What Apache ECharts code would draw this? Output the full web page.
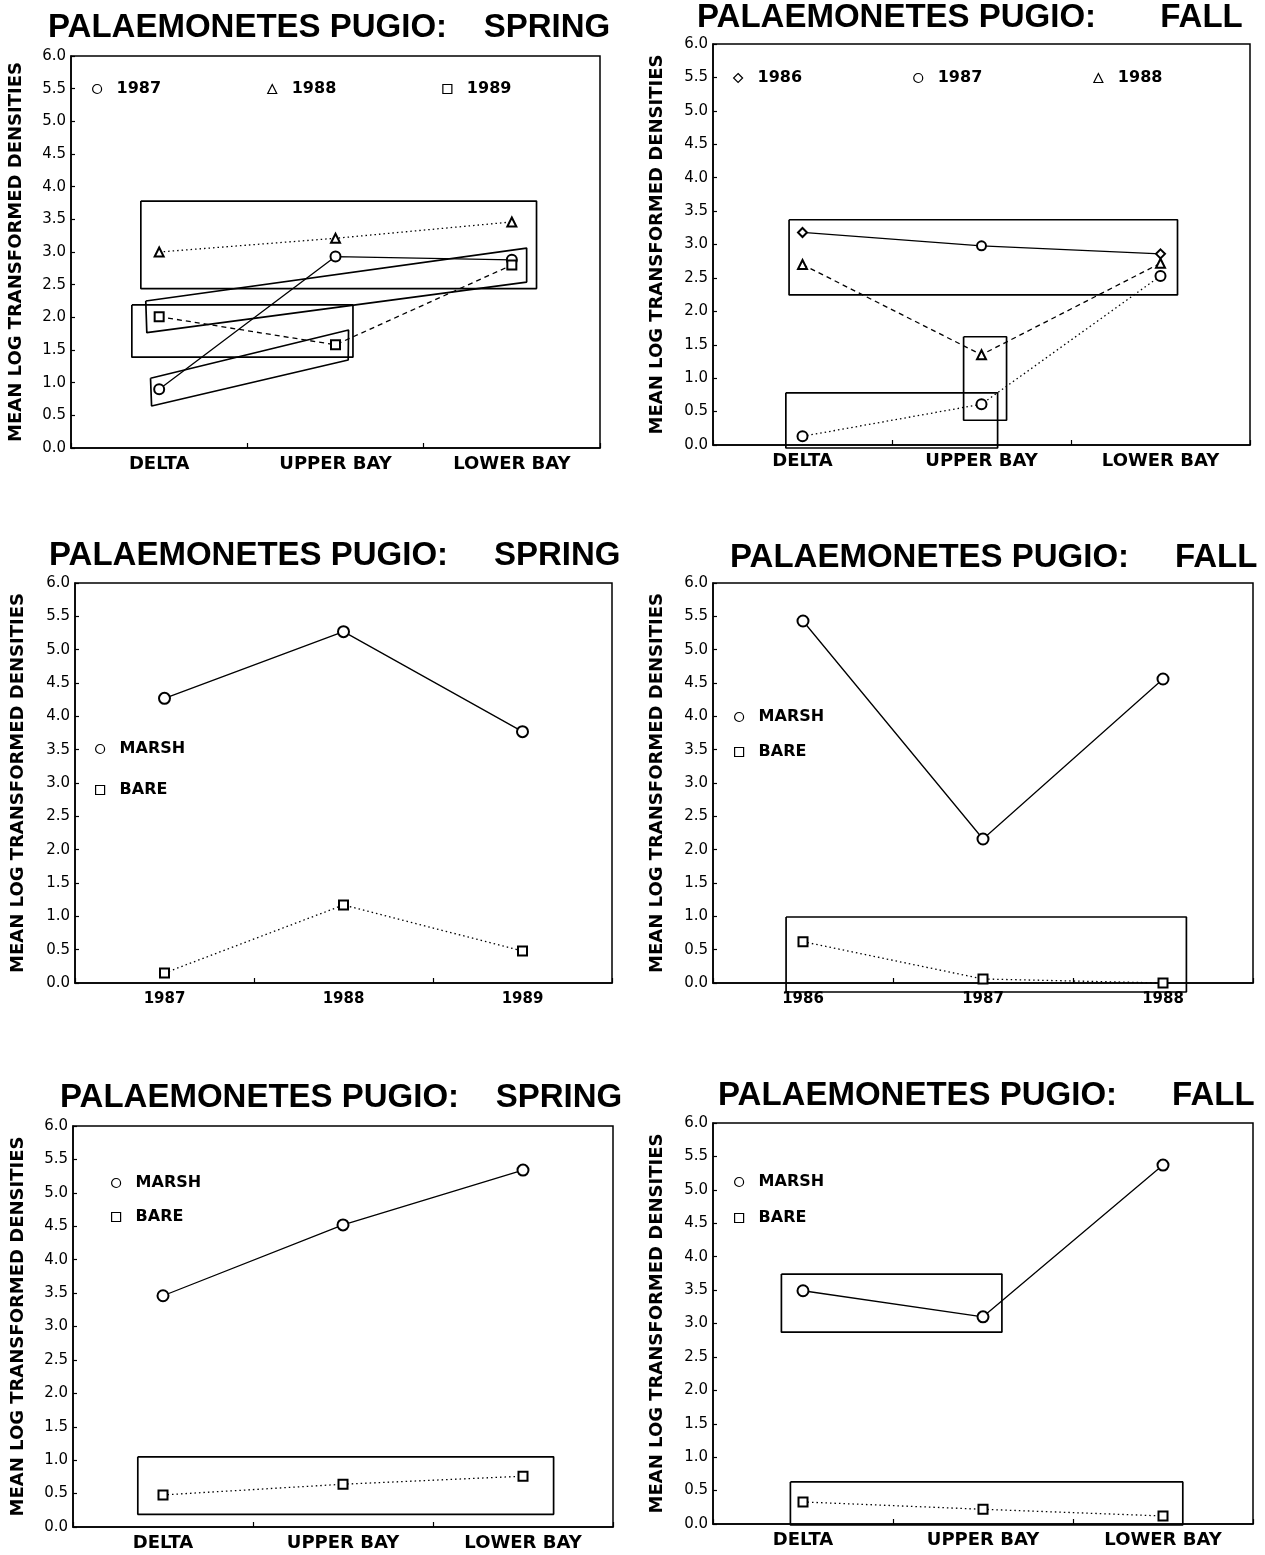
<!DOCTYPE html>
<html>
<head>
<meta charset="utf-8">
<title>Palaemonetes pugio densities</title>
<script src="https://cdn.jsdelivr.net/npm/echarts@6/dist/echarts.min.js"></script>
<style>
  html, body { margin: 0; padding: 0; background: #fff; }
  #chart { width: 1265px; height: 1555px; }
</style>
</head>
<body>
<div id="chart"></div>
<script>
// Category axes
const regions = ['DELTA', 'UPPER BAY', 'LOWER BAY'];
const springYears = ['1987', '1988', '1989'];
const fallYears = ['1986', '1987', '1988'];

// Value axis range (mean log transformed densities)
const densityMin = 0;
const densityMax = 6;
const densityStep = 0.5;

// Spring, by region, one line per year
const springRegion1987 = [0.90, 2.93, 2.88];
const springRegion1988 = [3.00, 3.21, 3.46];
const springRegion1989 = [2.01, 1.58, 2.80];

// Fall, by region, one line per year
const fallRegion1986 = [3.18, 2.98, 2.86];
const fallRegion1987 = [0.13, 0.61, 2.53];
const fallRegion1988 = [2.70, 1.35, 2.72];

// Spring, by year, marsh vs bare
const springYearMarsh = [4.27, 5.27, 3.77];
const springYearBare = [0.15, 1.17, 0.48];

// Fall, by year, marsh vs bare
const fallYearMarsh = [5.43, 2.16, 4.56];
const fallYearBare = [0.62, 0.06, 0.00];

// Spring, by region, marsh vs bare
const springRegionMarsh = [3.46, 4.52, 5.34];
const springRegionBare = [0.48, 0.64, 0.76];

// Fall, by region, marsh vs bare
const fallRegionMarsh = [3.49, 3.10, 5.37];
const fallRegionBare = [0.33, 0.22, 0.12];

// Outlines around means that do not differ (corners as [category position, density])
const springRegionGroups = [
  [[-0.104, 3.78], [2.14, 3.78], [2.14, 2.44], [-0.104, 2.44]],
  [[-0.155, 2.19], [1.099, 2.19], [1.099, 1.39], [-0.155, 1.39]],
  [[-0.076, 2.25], [2.084, 3.06], [2.084, 2.54], [-0.07, 1.765]],
  [[-0.049, 1.067], [1.074, 1.806], [1.072, 1.347], [-0.043, 0.643]]
];
const fallRegionGroups = [
  [[-0.075, 3.37], [2.095, 3.37], [2.095, 2.245], [-0.075, 2.245]],
  [[0.90, 1.62], [1.14, 1.62], [1.14, 0.37], [0.90, 0.37]],
  [[-0.093, 0.78], [1.09, 0.78], [1.09, -0.045], [-0.093, -0.045]]
];
const fallYearGroups = [
  [[-0.094, 0.99], [2.13, 0.99], [2.13, -0.135], [-0.094, -0.135]]
];
const springRegionHabitatGroups = [
  [[-0.14, 1.05], [2.17, 1.05], [2.17, 0.19], [-0.14, 0.19]]
];
const fallRegionHabitatGroups = [
  [[-0.12, 3.74], [1.105, 3.74], [1.105, 2.87], [-0.12, 2.87]],
  [[-0.07, 0.63], [2.11, 0.63], [2.11, -0.015], [-0.07, -0.015]]
];

// ---- styling ----
const INK = '#000';
const FONT = "'DejaVu Sans', sans-serif";
const TITLE_FONT = "'Liberation Sans', Arial, sans-serif";
const DOTTED = [1.5, 3];
const DASHED = [5, 4];

const diamondWithCircle = (v, p) => (p.dataIndex === 1 ? 'emptyCircle' : 'emptyDiamond');

const panels = [
  {
    grid: { left: 71, top: 56, width: 529, height: 392 },
    title: { text: 'PALAEMONETES PUGIO:    SPRING', left: 48, top: 11 },
    cats: regions, catFont: 18, catMargin: 7, nameGap: 46,
    series: [
      { name: '1987', data: springRegion1987, symbol: 'emptyCircle', size: 10, line: 'solid' },
      { name: '1988', data: springRegion1988, symbol: 'emptyTriangle', size: 9, line: DOTTED },
      { name: '1989', data: springRegion1989, symbol: 'emptyRect', size: 9, line: DASHED }
    ],
    groups: springRegionGroups,
    legend: { items: [['1987', 'circle'], ['1988', 'triangle'], ['1989', 'rect']],
              orient: 'horizontal', left: 92, top: 81, itemGap: 106 }
  },
  {
    grid: { left: 713, top: 44, width: 537, height: 401 },
    title: { text: 'PALAEMONETES PUGIO:       FALL', left: 697, top: 1 },
    cats: regions, catFont: 18, catMargin: 7, nameGap: 47,
    series: [
      { name: '1986', data: fallRegion1986, symbol: diamondWithCircle, size: 9, line: 'solid' },
      { name: '1987', data: fallRegion1987, symbol: 'emptyCircle', size: 10, line: DOTTED },
      { name: '1988', data: fallRegion1988, symbol: 'emptyTriangle', size: 9, line: DASHED }
    ],
    groups: fallRegionGroups,
    legend: { items: [['1986', 'diamond'], ['1987', 'circle'], ['1988', 'triangle']],
              orient: 'horizontal', left: 733, top: 70, itemGap: 111 }
  },
  {
    grid: { left: 75, top: 583, width: 537, height: 400 },
    title: { text: 'PALAEMONETES PUGIO:     SPRING', left: 49, top: 539 },
    cats: springYears, catFont: 15, catMargin: 9, nameGap: 48,
    series: [
      { name: 'MARSH', data: springYearMarsh, symbol: 'emptyCircle', size: 11, line: 'solid' },
      { name: 'BARE', data: springYearBare, symbol: 'emptyRect', size: 9, line: DOTTED }
    ],
    groups: [],
    legend: { items: [['MARSH', 'circle'], ['BARE', 'rect']],
              orient: 'vertical', left: 95, top: 741, itemGap: 25 }
  },
  {
    grid: { left: 713, top: 583, width: 540, height: 400 },
    title: { text: 'PALAEMONETES PUGIO:     FALL', left: 730, top: 541 },
    cats: fallYears, catFont: 15, catMargin: 9, nameGap: 47,
    series: [
      { name: 'MARSH', data: fallYearMarsh, symbol: 'emptyCircle', size: 11, line: 'solid' },
      { name: 'BARE', data: fallYearBare, symbol: 'emptyRect', size: 9, line: DOTTED }
    ],
    groups: fallYearGroups,
    legend: { items: [['MARSH', 'circle'], ['BARE', 'rect']],
              orient: 'vertical', left: 734, top: 709, itemGap: 19 }
  },
  {
    grid: { left: 73, top: 1126, width: 540, height: 401 },
    title: { text: 'PALAEMONETES PUGIO:    SPRING', left: 60, top: 1081 },
    cats: regions, catFont: 18, catMargin: 7, nameGap: 46,
    series: [
      { name: 'MARSH', data: springRegionMarsh, symbol: 'emptyCircle', size: 11, line: 'solid' },
      { name: 'BARE', data: springRegionBare, symbol: 'emptyRect', size: 9, line: DOTTED }
    ],
    groups: springRegionHabitatGroups,
    legend: { items: [['MARSH', 'circle'], ['BARE', 'rect']],
              orient: 'vertical', left: 111, top: 1175, itemGap: 18 }
  },
  {
    grid: { left: 713, top: 1123, width: 540, height: 401 },
    title: { text: 'PALAEMONETES PUGIO:      FALL', left: 718, top: 1079 },
    cats: regions, catFont: 18, catMargin: 7, nameGap: 47,
    series: [
      { name: 'MARSH', data: fallRegionMarsh, symbol: 'emptyCircle', size: 11, line: 'solid' },
      { name: 'BARE', data: fallRegionBare, symbol: 'emptyRect', size: 9, line: DOTTED }
    ],
    groups: fallRegionHabitatGroups,
    legend: { items: [['MARSH', 'circle'], ['BARE', 'rect']],
              orient: 'vertical', left: 734, top: 1174, itemGap: 20 }
  }
];

const option = {
  backgroundColor: '#fff',
  animation: false,
  title: [], grid: [], xAxis: [], yAxis: [], legend: [], series: []
};

panels.forEach((p, i) => {
  option.title.push({
    text: p.title.text, left: p.title.left, top: p.title.top, padding: 0,
    textStyle: { fontFamily: TITLE_FONT, fontWeight: 'bold', fontSize: 33, color: INK }
  });

  option.grid.push(Object.assign({
    show: true, borderColor: INK, borderWidth: 1.5, backgroundColor: 'transparent'
  }, p.grid));

  // Visible category axis
  option.xAxis.push({
    type: 'category', gridIndex: i, data: p.cats, boundaryGap: true,
    axisLine: { show: true, onZero: false, lineStyle: { color: INK, width: 1.5 } },
    axisTick: { show: true, inside: true, length: 5, lineStyle: { color: INK, width: 1.2 } },
    axisLabel: { color: INK, fontFamily: FONT, fontWeight: 'bold', fontSize: p.catFont, margin: p.catMargin },
    splitLine: { show: false }
  });
  // Continuous companion axis spanning the same band, used for the outlines
  option.xAxis.push({
    type: 'value', gridIndex: i, min: -0.5, max: 2.5, show: false
  });

  option.yAxis.push({
    type: 'value', gridIndex: i, min: densityMin, max: densityMax, interval: densityStep,
    name: 'MEAN LOG TRANSFORMED DENSITIES', nameLocation: 'middle', nameRotate: 90, nameGap: p.nameGap,
    nameTextStyle: { color: INK, fontFamily: FONT, fontWeight: 'bold', fontSize: 18 },
    axisLine: { show: true, onZero: false, lineStyle: { color: INK, width: 1.5 } },
    axisTick: { show: true, inside: true, length: 4, lineStyle: { color: INK, width: 1.2 } },
    axisLabel: { color: INK, fontFamily: FONT, fontSize: 15, margin: 5, formatter: v => v.toFixed(1) },
    splitLine: { show: false }
  });

  option.legend.push({
    data: p.legend.items.map(([name, icon]) => ({ name, icon })),
    orient: p.legend.orient, left: p.legend.left, top: p.legend.top,
    itemGap: p.legend.itemGap, itemWidth: 9, itemHeight: 9, padding: 0,
    selectedMode: false,
    itemStyle: { color: '#fff', borderColor: INK, borderWidth: 1.2 },
    textStyle: { color: INK, fontFamily: FONT, fontWeight: 'bold', fontSize: 16, padding: [0, 0, 0, 10] }
  });

  p.groups.forEach(corners => {
    option.series.push({
      type: 'line', name: 'grouping', xAxisIndex: 2 * i + 1, yAxisIndex: i,
      data: corners.concat([corners[0]]),
      symbol: 'none', clip: false, silent: true, z: 1,
      lineStyle: { color: INK, width: 1.7 }
    });
  });

  p.series.forEach(s => {
    option.series.push({
      type: 'line', name: s.name, xAxisIndex: 2 * i, yAxisIndex: i,
      data: s.data, symbol: s.symbol, symbolSize: s.size, showSymbol: true,
      clip: false, silent: true, z: 3,
      itemStyle: { color: INK, borderWidth: 1.2 },
      lineStyle: { color: INK, width: 1.3, type: s.line }
    });
  });
});

const chart = echarts.init(document.getElementById('chart'), null, { renderer: 'canvas' });
chart.setOption(option);
</script>
</body>
</html>
